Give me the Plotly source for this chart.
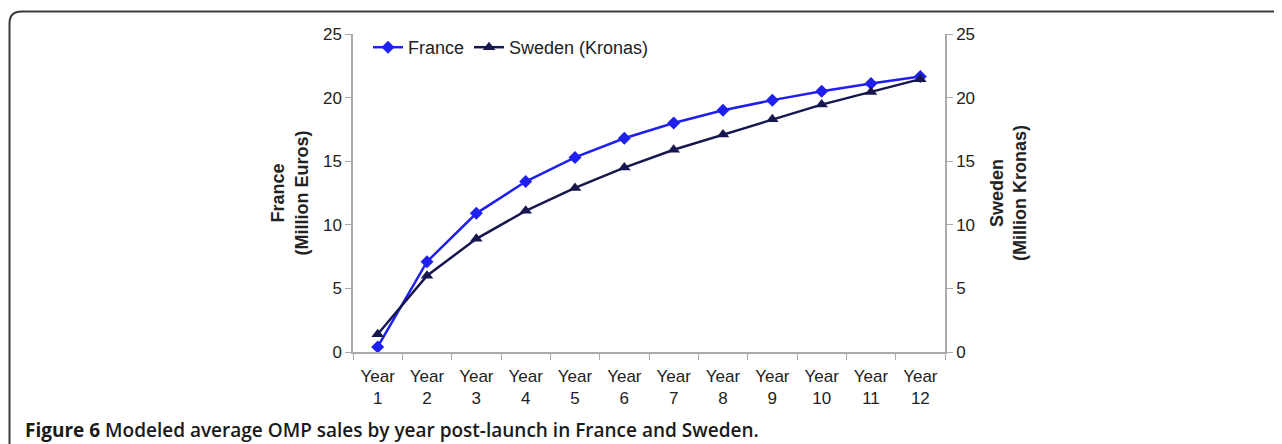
import plotly.graph_objects as go

categories = ["Year<br>1", "Year<br>2", "Year<br>3", "Year<br>4", "Year<br>5", "Year<br>6",
              "Year<br>7", "Year<br>8", "Year<br>9", "Year<br>10", "Year<br>11", "Year<br>12"]
france = [0.4, 7.1, 10.9, 13.4, 15.3, 16.8, 18.0, 19.0, 19.8, 20.5, 21.1, 21.65]
sweden = [1.4, 6.0, 8.9, 11.1, 12.9, 14.5, 15.9, 17.1, 18.3, 19.45, 20.45, 21.45]
y_ticks = [0, 5, 10, 15, 20, 25]

# the page body has an 8px margin; work in page pixels and convert
OFF = 8
W, H = 1282 - OFF, 444 - OFF
L, R, T, B = 353, 945, 34, 352   # plot area in page pixels
pw, ph = R - L, B - T

def px(x):
    return (x - L) / pw

def py(y):
    return (B - y) / ph

fig = go.Figure()
fig.add_trace(go.Scatter(
    x=categories, y=france, name="France", mode="lines+markers",
    line=dict(color="#1f1ff0", width=2.5),
    marker=dict(symbol="diamond", size=10, color="#1f1ff0"),
))
fig.add_trace(go.Scatter(
    x=categories, y=sweden, name="Sweden (Kronas)", mode="lines+markers", yaxis="y2",
    line=dict(color="#17174f", width=2.5),
    marker=dict(symbol="triangle-up", size=11, color="#17174f"),
))

tickfont = dict(family="Liberation Sans, Arial", size=17, color="#222222")
titlefont = dict(family="Liberation Sans, Arial", size=18, color="#222222")

fig.update_layout(
    width=W, height=H,
    margin=dict(l=L - OFF, r=1282 - R, t=T - OFF, b=444 - B, pad=0),
    paper_bgcolor="white", plot_bgcolor="white",
    showlegend=True,
    legend=dict(orientation="h", x=px(368), y=py(29), xanchor="left", yanchor="top",
                font=dict(family="Liberation Sans, Arial", size=18, color="#222222"),
                bgcolor="rgba(0,0,0,0)", itemwidth=30, tracegroupgap=0),
    xaxis=dict(
        type="category", range=[-0.5, 11.5], tickson="boundaries",
        ticks="outside", ticklen=6, tickcolor="#aaaaaa", showline=True, linecolor="#aaaaaa",
        linewidth=1.5, showgrid=False, tickfont=tickfont, zeroline=False,
        ticklabelstandoff=8,
    ),
    yaxis=dict(
        range=[0, 25], tickvals=y_ticks, ticks="outside", ticklen=6, tickcolor="#aaaaaa",
        showline=True, linecolor="#aaaaaa", linewidth=1.5, showgrid=False, zeroline=False,
        tickfont=tickfont,
        title=dict(text="<b>France<br>(Million Euros)</b>", font=titlefont, standoff=10),
    ),
    yaxis2=dict(
        range=[0, 25], tickvals=y_ticks, overlaying="y", side="right", ticks="outside",
        ticklen=6, tickcolor="#aaaaaa", showline=True, linecolor="#aaaaaa", linewidth=1.5,
        showgrid=False, zeroline=False, tickfont=tickfont,
        title=dict(text="<b>Sweden<br>(Million Kronas)</b>", font=titlefont, standoff=16),
    ),
)

# rounded frame around the figure
x0, y0, x1, y1, r = px(9.5), py(11.5), px(1300), py(470), 12
rx, ry = r / pw, r / ph
path = (f"M {x0},{y1} L {x0},{y0 - ry} Q {x0},{y0} {x0 + rx},{y0} "
        f"L {x1},{y0}")
fig.add_shape(type="path", path=path, xref="paper", yref="paper",
              line=dict(color="#3a3a3a", width=2))

fig.add_annotation(
    text="<b>Figure 6</b> Modeled average OMP sales by year post-launch in France and Sweden.",
    xref="paper", yref="paper", x=px(23), y=py(430), xanchor="left", yanchor="middle",
    showarrow=False, font=dict(family="Open Sans", size=19, color="#1a1a1a", weight=600),
)

fig.write_html("out.html")
